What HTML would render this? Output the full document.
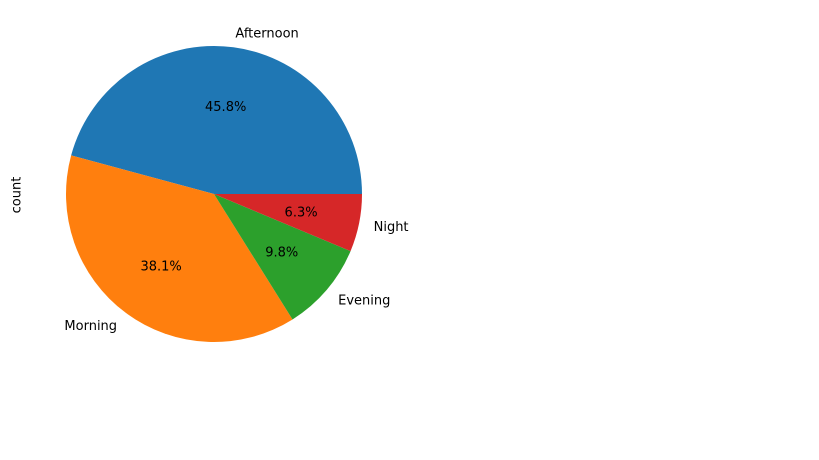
<!DOCTYPE html>
<html>
<head>
<meta charset="utf-8">
<style>
html,body{margin:0;padding:0;background:#fff;}
svg{display:block;font-family:"DejaVu Sans","Liberation Sans",sans-serif;}
</style>
</head>
<body>
<svg id="chart" width="819" height="460" viewBox="0 0 819 460" xmlns="http://www.w3.org/2000/svg">
<rect width="819" height="460" fill="#fff"/>
<text x="17" y="195" font-size="13" text-anchor="middle" transform="rotate(-90 17 195)" dominant-baseline="middle">count</text>
<g id="slices"></g>
<g id="labels"></g>
</svg>
<script>
const categories = ["Afternoon", "Morning", "Evening", "Night"];
const values = [45.8, 38.1, 9.8, 6.3];
const pctLabels = ["45.8%", "38.1%", "9.8%", "6.3%"];
const colors = ["#1f77b4", "#ff7f0e", "#2ca02c", "#d62728"];

const cx = 214, cy = 194, r = 148;
const ns = "http://www.w3.org/2000/svg";
const total = values.reduce((a, b) => a + b, 0);
const slicesG = document.getElementById("slices");
const labelsG = document.getElementById("labels");
function pt(deg, rad) {
  const a = deg * Math.PI / 180;
  return [cx + rad * Math.cos(a), cy - rad * Math.sin(a)];
}
let start = 0;
values.forEach((v, i) => {
  const sweep = v / total * 360;
  const end = start + sweep;
  const [x1, y1] = pt(start, r);
  const [x2, y2] = pt(end, r);
  const large = sweep > 180 ? 1 : 0;
  const path = document.createElementNS(ns, "path");
  path.setAttribute("d", `M${cx},${cy} L${x1},${y1} A${r},${r} 0 ${large} 0 ${x2},${y2} Z`);
  path.setAttribute("fill", colors[i]);
  
  
  slicesG.appendChild(path);

  const mid = start + sweep / 2;
  const [lx, ly] = pt(mid, r * 1.1);
  const lab = document.createElementNS(ns, "text");
  lab.setAttribute("x", lx);
  lab.setAttribute("y", ly + 1.5);
  lab.setAttribute("font-size", "13");
  lab.setAttribute("dominant-baseline", "middle");
  lab.setAttribute("text-anchor", Math.cos(mid * Math.PI / 180) >= 0 ? "start" : "end");
  lab.textContent = categories[i];
  
  
  labelsG.appendChild(lab);

  const [px, py] = pt(mid, r * 0.6);
  const pl = document.createElementNS(ns, "text");
  pl.setAttribute("x", px);
  pl.setAttribute("y", py + 1.5);
  pl.setAttribute("font-size", "13");
  pl.setAttribute("dominant-baseline", "middle");
  pl.setAttribute("text-anchor", "middle");
  pl.textContent = pctLabels[i];
  
  
  labelsG.appendChild(pl);

  start = end;
});
</script>
</body>
</html>
